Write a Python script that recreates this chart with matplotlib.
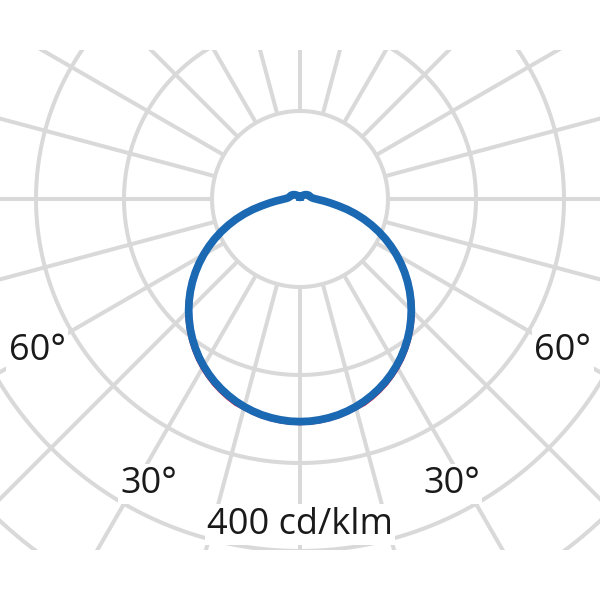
import numpy as np
import matplotlib
matplotlib.use('Agg')
import matplotlib.pyplot as plt

# Light distribution (cd/klm), angle from nadir in degrees
angles = np.arange(0, 180.1, 2.5)
c90_c270 = [253, 252.8, 252, 250.8, 249.2, 247, 244.4, 241.3, 237.7, 233.7, 229.3, 224.4,
            219.1, 213.4, 207.2, 200.7, 193.8, 186.5, 178.9, 170.9, 162.6, 154, 145.1, 135.9,
            126.5, 116.8, 106.9, 96.8, 86.5, 76.1, 65.5, 54.8, 43.9, 35, 28, 22,
            18, 15.5, 14, 13, 12.5, 12, 11.5, 11, 11, 10.5, 10.5, 10, 9.5, 9, 8.5, 8,
            7.5, 7, 6.5, 6, 5.5, 5, 4.5, 4, 4, 3.5, 3.5, 3, 3, 2.5, 2.5, 2.5, 2, 2, 2, 2, 2]
c0_c180 = [256, 255.8, 255, 253.8, 252.2, 250, 247.4, 245.3, 241.7, 237.7, 233.3, 228.4,
           223.1, 217.4, 211.2, 204.7, 197.8, 190.5, 182.9, 174.9, 166.6, 158, 149.1, 139.9,
           130.5, 120.8, 110.9, 99.8, 89.5, 79.1, 68.5, 56.8, 45.9, 36, 29, 22,
           18, 15.5, 14, 13, 12.5, 12, 11.5, 11, 11, 10.5, 10.5, 10, 9.5, 9, 8.5, 8,
           7.5, 7, 6.5, 6, 5.5, 5, 4.5, 4, 4, 3.5, 3.5, 3, 3, 2.5, 2.5, 2.5, 2, 2, 2, 2, 2]

ring_values = [100, 200, 300, 400, 500, 600]
spoke_angles = np.arange(0, 360, 15)
scale_label = '400 cd/klm'
angle_labels = ['60°', '30°']
label_angles = [60, 28]
label_radii = [345, 367]

grid_color = '#d9d9d9'
blue = '#1b68b3'
red = '#e3173a'

plt.rcParams['font.family'] = ['Open Sans', 'DejaVu Sans']

fig = plt.figure(figsize=(6, 6), dpi=100)
# axes window = the clipped grid area (rows 50..550), 0.88 px per cd/klm
ax = fig.add_axes([0, 50 / 600, 1, 500 / 600])
ax.set_xlim(-300 / 0.88, 300 / 0.88)
ax.set_ylim(-351 / 0.88, 149 / 0.88)
ax.set_aspect('equal')
ax.axis('off')

# grid: rings and spokes
t = np.linspace(0, 2 * np.pi, 721)
for r in ring_values:
    ax.plot(r * np.cos(t), r * np.sin(t), color=grid_color, lw=2.9, zorder=1)
for a in np.radians(spoke_angles):
    ax.plot([100 * np.sin(a), 700 * np.sin(a)], [-100 * np.cos(a), -700 * np.cos(a)],
            color=grid_color, lw=2.9, solid_capstyle='butt', zorder=1)


def curve(vals):
    th = np.radians(angles)
    v = np.array(vals, dtype=float)
    x = np.concatenate([-(v * np.sin(th))[::-1], (v * np.sin(th))[1:]])
    y = np.concatenate([-(v * np.cos(th))[::-1], -(v * np.cos(th))[1:]])
    return x, y


xr, yr = curve(c0_c180)
ax.plot(xr, yr, color=red, lw=1.4, zorder=3)
xb, yb = curve(c90_c270)
ax.plot(xb, yb, color=blue, lw=5.6, solid_joinstyle='round', zorder=4)

box = dict(facecolor='white', edgecolor='none', pad=1.5)
for lab, a, r in zip(angle_labels, label_angles, label_radii):
    for side in (-1, 1):
        ax.text(side * r * np.sin(np.radians(a)), -r * np.cos(np.radians(a)), lab,
                fontsize=26, ha='center', va='center', color='#1a1a1a', bbox=box, zorder=5)

ax.text(0, -370, scale_label, fontsize=26, ha='center', va='center', color='#1a1a1a',
        bbox=box, zorder=5)

fig.savefig('out.png', dpi=100, facecolor='white')
